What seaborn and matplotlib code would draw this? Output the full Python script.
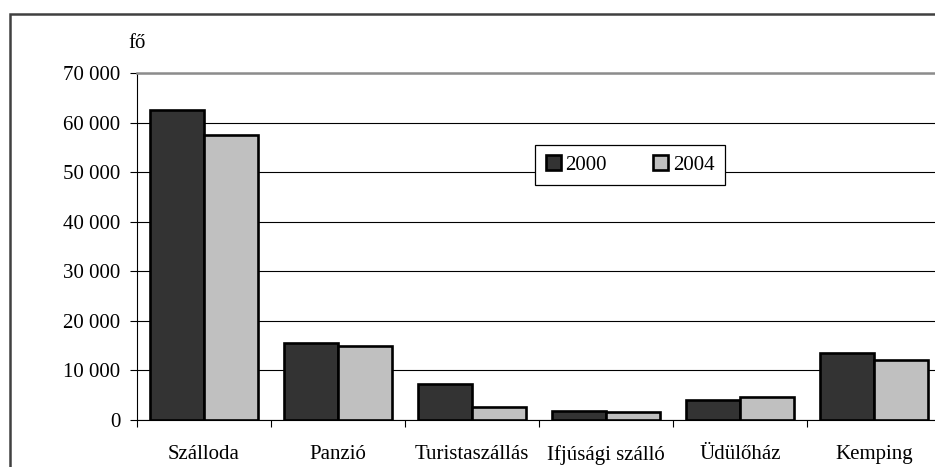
import matplotlib
matplotlib.use("Agg")
import matplotlib.pyplot as plt
import matplotlib.patches as mpatches
import seaborn as sns
import pandas as pd
from matplotlib.ticker import FuncFormatter, FixedLocator

categories = ["Szálloda", "Panzió", "Turistaszállás", "Ifjúsági szálló", "Üdülőház", "Kemping"]
years = ["2000", "2004"]
values_2000 = [62500, 15600, 7200, 1900, 4000, 13600]
values_2004 = [57500, 15000, 2600, 1700, 4600, 12100]
y_ticks = [0, 10000, 20000, 30000, 40000, 50000, 60000, 70000]
y_unit = "fő"

df = pd.DataFrame({
    "kategoria": categories * 2,
    "ev": [years[0]] * len(categories) + [years[1]] * len(categories),
    "ertek": values_2000 + values_2004,
})

sns.set_theme(style="white")
plt.rcParams["font.family"] = ["Liberation Serif", "DejaVu Serif"]

W, H = 935, 467
fig = plt.figure(figsize=(W / 100, H / 100), dpi=100)
ax = fig.add_axes([137 / W, 1 - 420 / H, (941 - 137) / W, (420 - 73) / H])

sns.barplot(data=df, x="kategoria", y="ertek", hue="ev", order=categories,
            hue_order=years, palette=["#333333", "#c0c0c0"], width=0.8,
            edgecolor="black", linewidth=1.9, saturation=1, ax=ax, zorder=3)

ax.set_xlim(-0.5, len(categories) - 0.5)
ax.set_ylim(0, 70000)
ax.set_yticks(y_ticks)
ax.yaxis.set_major_formatter(FuncFormatter(lambda v, p: f"{int(v):,}".replace(",", " ")))
ax.grid(axis="y", color="black", linewidth=0.8, zorder=0)
ax.set_axisbelow(True)
ax.set_xlabel("")
ax.set_ylabel("")

ax.tick_params(axis="y", direction="out", length=5, width=0.8, color="black",
               labelsize=15, pad=7, left=True)
ax.xaxis.set_minor_locator(FixedLocator([i - 0.5 for i in range(len(categories) + 1)]))
ax.tick_params(axis="x", which="major", length=0, labelsize=15, pad=18)
ax.tick_params(axis="x", which="minor", direction="out", length=5, width=0.8,
               color="black", bottom=True)
for lab in ax.get_xticklabels() + ax.get_yticklabels():
    lab.set_color("black")

for s in ["left", "bottom"]:
    ax.spines[s].set_color("black")
    ax.spines[s].set_linewidth(0.8)
ax.spines["top"].set_color("#8c8c8c")
ax.spines["top"].set_linewidth(1.8)
ax.spines["right"].set_color("#8c8c8c")
ax.spines["right"].set_linewidth(1.8)

leg = ax.legend(loc="center", bbox_to_anchor=((630 - 137) / (941 - 137), (420 - 165) / (420 - 73)),
                ncol=2, frameon=True, fancybox=False, fontsize=15, handlelength=0.75,
                handleheight=0.75, handletextpad=0.2, columnspacing=2.2,
                borderpad=0.5, borderaxespad=0, edgecolor="black")
leg.get_frame().set_linewidth(0.9)
leg.get_frame().set_alpha(1)
leg.set_zorder(5)
for t in leg.get_texts():
    t.set_color("black")

fig.text(137 / W, 1 - 43 / H, y_unit, ha="center", va="center", fontsize=15, color="black")

frame = mpatches.Rectangle((10 / W, -0.2), 1.2, 1 - 13.5 / H + 0.2, transform=fig.transFigure,
                           fill=False, edgecolor="#404040", linewidth=1.8, zorder=10)
fig.patches.append(frame)

fig.savefig("out.png", dpi=100)
